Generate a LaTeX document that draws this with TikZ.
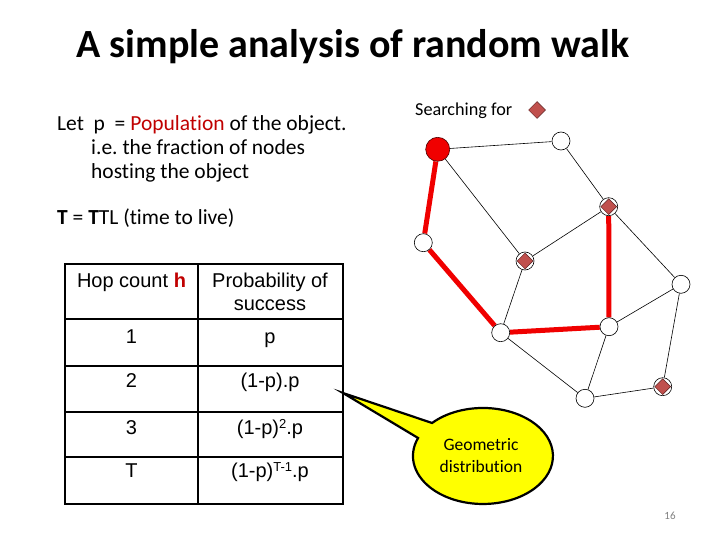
\documentclass[tikz,border=0pt]{standalone}
\usepackage{fontspec}
\setmainfont{Carlito}[Ligatures=NoCommon]
\newfontfamily\arialf{Liberation Sans}
\usetikzlibrary{shapes.geometric,backgrounds}
\definecolor{popred}{RGB}{192,0,0}
\definecolor{nodered}{RGB}{240,0,0}
\definecolor{diafill}{RGB}{192,80,77}
\definecolor{diaedge}{RGB}{90,30,30}
\definecolor{callyellow}{RGB}{255,255,0}
\definecolor{pagegray}{RGB}{128,128,128}
\newcommand{\smallsup}[1]{\raisebox{0.55ex}{\fontsize{13}{14}\selectfont #1}}
\tikzset{
  peer/.style={circle, draw=black, line width=0.6pt, fill=white, minimum size=18pt, inner sep=0pt},
  startpeer/.style={circle, draw=black!70!red, line width=0.6pt, fill=nodered, minimum size=24pt, inner sep=0pt},
  obj/.style={diamond, draw=diaedge, line width=0.5pt, fill=diafill, minimum width=16pt, minimum height=16pt, inner sep=0pt},
  link/.style={draw=black, line width=0.6pt},
  walk/.style={draw=nodered, line width=5pt},
  bodytext/.style={anchor=base west, inner sep=0pt, font=\fontsize{21.5}{24}\selectfont},
  celltext/.style={anchor=base, inner sep=0pt, font=\arialf\fontsize{20}{23}\selectfont},
  tabouter/.style={line width=2pt},
  tabinner/.style={line width=1.6pt}
}
\begin{document}
\begin{tikzpicture}[x=1pt,y=-1pt]
\useasboundingbox (0,0) rectangle (720,540);
% title
\node[anchor=base, inner sep=0pt] (title) at (353,58) {\fontsize{40}{46}\selectfont\bfseries A simple analysis of random walk};
% left text
\node[bodytext] (l1) at (57,131) {Let\ \ p\ \ = \textcolor{popred}{Population} of the object.};
\node[bodytext] (l2) at (91,155) {i.e.\ the fraction of nodes};
\node[bodytext] (l3) at (91,179) {hosting the object};
\node[bodytext] (l4) at (57,225) {\textbf{T} = \textbf{T}TL (time to live)};
% table
\draw[tabinner] (198,264) -- (198,504);
\draw[tabinner] (65,319) -- (343,319);
\draw[tabinner] (65,366) -- (343,366);
\draw[tabinner] (65,412) -- (343,412);
\draw[tabinner] (65,457) -- (343,457);
\draw[tabouter] (65,264) rectangle (343,504);
\node[celltext] (h0) at (131.5,287) {Hop count \textcolor{popred}{\bfseries h}};
\node[celltext] (p0a) at (270,287) {Probability of};
\node[celltext] (p0b) at (270,310) {success};
\node[celltext] (h1) at (131.5,343) {1};
\node[celltext] (p1) at (270,343) {p};
\node[celltext] (h2) at (131.5,387) {2};
\node[celltext] (p2) at (270,387) {(1-p).p};
\node[celltext] (h3) at (131.5,434) {3};
\node[celltext] (p3) at (270,434) {(1-p)\smallsup{2}.p};
\node[celltext] (h4) at (131.5,477) {T};
\node[celltext] (p4) at (270,477) {(1-p)\smallsup{T-1}.p};
% searching for
\node[anchor=base west, inner sep=0pt, font=\fontsize{18.2}{22}\selectfont] (sf) at (415,116) {Searching for};
\node[obj, minimum width=17pt, minimum height=17pt] (sfd) at (537,110) {};
% graph
\node[startpeer] (S) at (437.7,149.3) {};
\node[peer] (A) at (561,141) {};
\node[peer] (B) at (608.7,206.7) {};
\node[obj] (Bd) at (B) {};
\node[peer] (C) at (423.3,242.7) {};
\node[peer] (D) at (525,261) {};
\node[obj] (Dd) at (D) {};
\node[peer] (E) at (681,284.3) {};
\node[peer] (F) at (500.7,332.7) {};
\node[peer] (G) at (609,326.7) {};
\node[peer] (H) at (585,398.3) {};
\node[peer] (I) at (662.7,386.7) {};
\node[obj] (Id) at (I) {};
\begin{scope}[on background layer]
\draw[link] (S) -- (A);
\draw[link] (S) -- (D);
\draw[link] (A) -- (B);
\draw[link] (B) -- (D);
\draw[link] (B) -- (E);
\draw[link] (D) -- (F);
\draw[link] (F) -- (H);
\draw[link] (G) -- (E);
\draw[link] (G) -- (H);
\draw[link] (E) -- (I);
\draw[link] (H) -- (I);
\draw[walk] (S) -- (C);
\draw[walk] (C) -- (F);
\draw[walk] (F) -- (G);
\draw[walk] (G) -- (B);
\end{scope}
% callout
\coordinate (tip) at (343,393);
\filldraw[fill=callyellow, draw=black, line width=2.2pt] (tip) -- (432.1,423.0) arc[start angle=223.4, end angle=562, x radius=70, y radius=48] -- cycle;
\node[align=center, inner sep=0pt, font=\fontsize{17.5}{22}\selectfont] (geo) at (481,456) {Geometric\\distribution};
% page number
\node[anchor=base, inner sep=0pt, text=pagegray, font=\fontsize{11}{12}\selectfont] (pg) at (670,519) {16};
\end{tikzpicture}
\end{document}
